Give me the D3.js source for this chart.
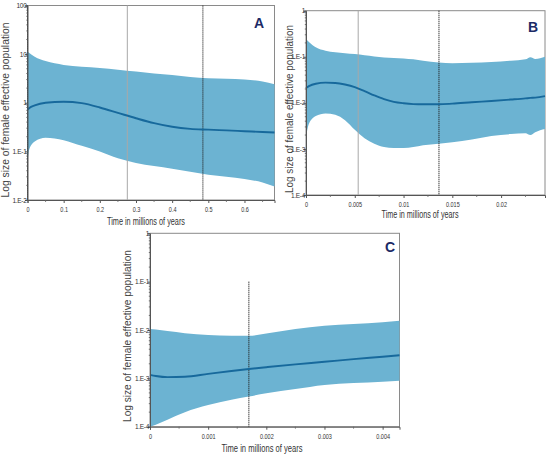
<!DOCTYPE html>
<html><head><meta charset="utf-8">
<script src="https://cdn.jsdelivr.net/npm/d3@7"></script>
<style>
body{margin:0;background:#fff;}
svg{display:block;font-family:"Liberation Sans",Arial,sans-serif;}
</style></head>
<body>
<svg id="c" width="550" height="458"></svg>
<script>
// ---------- Panel A ----------
const timeA   = [0, 0.005, 0.02, 0.05, 0.1, 0.15, 0.2, 0.25, 0.3, 0.35, 0.4, 0.45, 0.5, 0.55, 0.6, 0.65, 0.683];
const upperA  = [11.3, 10.5, 8.8, 7.2, 6.0, 5.5, 5.2, 4.8, 4.4, 4.0, 3.7, 3.4, 3.2, 3.1, 3.0, 2.75, 2.4];
const medianA = [0.72, 0.78, 0.88, 1.0, 1.05, 0.98, 0.8, 0.62, 0.48, 0.38, 0.32, 0.29, 0.28, 0.27, 0.26, 0.25, 0.245];
const lowerA  = [0.06, 0.11, 0.16, 0.19, 0.17, 0.13, 0.1, 0.072, 0.058, 0.05, 0.044, 0.038, 0.033, 0.03, 0.027, 0.023, 0.019];
const xTicksA = [0, 0.1, 0.2, 0.3, 0.4, 0.5, 0.6];
const xLabelsA = ["0", "0.1", "0.2", "0.3", "0.4", "0.5", "0.6"];
const yTicksA = [100, 10, 1, 0.1, 0.01];
const yLabelsA = ["100", "10", "1", "1.E-1", "1.E-2"];
const vlinesA = [{t: 0, dark: true}, {t: 0.276, dark: false}, {t: 0.485, dark: true}];

// ---------- Panel B ----------
const timeB   = [0, 0.0003, 0.001, 0.002, 0.003, 0.004, 0.005, 0.006, 0.007, 0.008, 0.009, 0.010, 0.011, 0.012, 0.0136, 0.015, 0.017, 0.019, 0.021, 0.0225, 0.023, 0.0235, 0.0245];
const upperB  = [0.24, 0.21, 0.16, 0.135, 0.125, 0.12, 0.115, 0.108, 0.102, 0.097, 0.094, 0.092, 0.088, 0.082, 0.075, 0.072, 0.074, 0.077, 0.082, 0.088, 0.098, 0.09, 0.1];
const medianB = [0.021, 0.023, 0.026, 0.0275, 0.027, 0.025, 0.022, 0.018, 0.0145, 0.012, 0.0105, 0.0098, 0.0094, 0.0093, 0.0093, 0.0096, 0.0103, 0.011, 0.0118, 0.0125, 0.0128, 0.013, 0.014];
const lowerB  = [0.0018, 0.0035, 0.0052, 0.0059, 0.0055, 0.0042, 0.0026, 0.0017, 0.0013, 0.0011, 0.00105, 0.00105, 0.0011, 0.0012, 0.0013, 0.0014, 0.0016, 0.0019, 0.0021, 0.0022, 0.002, 0.0023, 0.0027];
const xTicksB = [0, 0.005, 0.01, 0.015, 0.02];
const xLabelsB = ["0", "0.005", "0.01", "0.015", "0.02"];
const yTicksB = [1, 0.1, 0.01, 0.001, 0.0001];
const yLabelsB = ["1", "1.E-1", "1.E-2", "1.E-3", "1.E-4"];
const vlinesB = [{t: 0.00535, dark: false}, {t: 0.01363, dark: true}];

// ---------- Panel C ----------
const timeC   = [0, 0.0001, 0.0003, 0.0006, 0.001, 0.0014, 0.0017, 0.002, 0.0025, 0.003, 0.0035, 0.004, 0.00429];
const upperC  = [0.0105, 0.0102, 0.0095, 0.0086, 0.0079, 0.0076, 0.0076, 0.0085, 0.0105, 0.0122, 0.0133, 0.0145, 0.0155];
const medianC = [0.00118, 0.00112, 0.00106, 0.00108, 0.00124, 0.00142, 0.00156, 0.0017, 0.00195, 0.0022, 0.0025, 0.0028, 0.003];
const lowerC  = [0.0001, 0.00011, 0.00014, 0.0002, 0.00028, 0.00036, 0.00042, 0.00049, 0.0006, 0.00073, 0.0008, 0.00085, 0.00089];
const xTicksC = [0, 0.001, 0.002, 0.003, 0.004];
const xLabelsC = ["0", "0.001", "0.002", "0.003", "0.004"];
const yTicksC = [1, 0.1, 0.01, 0.001, 0.0001];
const yLabelsC = ["1", "1.E-1", "1.E-2", "1.E-3", "1.E-4"];
const vlinesC = [{t: 0.0017, dark: true, from: 0.1}];

const yTitle = "Log size of female effective population";
const xTitle = "Time in millions of years";

const svg = d3.select("#c");
const BAND = "#6cb3d2", LINE = "#17699c", LETTER = "#1c2a66";

function panel(cfg) {
  const x = d3.scaleLinear().domain(cfg.xDomain).range([cfg.left, cfg.right]);
  const y = d3.scaleLog().domain(cfg.yDomain).range([cfg.bottom, cfg.top]);
  const g = svg.append("g");
  const rows = cfg.time.map((t, i) => ({t, lo: cfg.lower[i], md: cfg.median[i], hi: cfg.upper[i]}));

  g.append("rect").attr("x", cfg.left).attr("y", cfg.top)
    .attr("width", cfg.right - cfg.left).attr("height", cfg.bottom - cfg.top)
    .attr("fill", "none").attr("stroke", "#8a8a8a").attr("stroke-width", 1);

  g.append("path").datum(rows)
    .attr("fill", BAND)
    .attr("d", d3.area().x(d => x(d.t)).y0(d => y(d.lo)).y1(d => y(d.hi)).curve(d3.curveMonotoneX));

  cfg.vlines.forEach(v => {
    g.append("line").attr("x1", x(v.t)).attr("x2", x(v.t))
      .attr("y1", v.from ? y(v.from) : cfg.top).attr("y2", cfg.bottom)
      .attr("stroke", v.dark ? "#222" : "#a8a8a8")
      .attr("stroke-width", 1)
      .attr("stroke-dasharray", v.dark ? "1.2,0.8" : null);
  });

  g.append("path").datum(rows)
    .attr("fill", "none").attr("stroke", LINE).attr("stroke-width", 1.9)
    .attr("d", d3.line().x(d => x(d.t)).y(d => y(d.md)).curve(d3.curveMonotoneX));

  const xa = d3.axisBottom(x).tickValues(cfg.xTicks).tickSize(3)
    .tickFormat((d, i) => cfg.xLabels[i]);
  const gx = g.append("g").attr("transform", `translate(0,${cfg.bottom})`).call(xa);
  gx.select(".domain").attr("stroke", "#555");
  gx.selectAll(".tick line").attr("stroke", "#555");
  gx.selectAll(".tick text").attr("font-size", 6.5).attr("fill", "#333").attr("dy", "0.9em")
    .attr("transform", "scale(0.85,1)");
  const step = cfg.xTicks[1] - cfg.xTicks[0];
  const minors = d3.range(step / 2, cfg.xDomain[1], step);
  g.selectAll(null).data(minors).enter().append("line")
    .attr("x1", d => x(d)).attr("x2", d => x(d))
    .attr("y1", cfg.bottom).attr("y2", cfg.bottom + 2)
    .attr("stroke", "#666").attr("stroke-width", 0.8);

  const ya = d3.axisLeft(y).tickValues(cfg.yTicks).tickSize(2.5)
    .tickFormat((d, i) => cfg.yLabels[i]);
  const gy = g.append("g").attr("transform", `translate(${cfg.left},0)`).call(ya);
  gy.select(".domain").attr("stroke", "#555");
  gy.selectAll(".tick line").attr("stroke", "#555");
  gy.selectAll(".tick text").attr("font-size", 6.5).attr("fill", "#333")
    .attr("x", -1).attr("letter-spacing", "-0.3");
  const lo = Math.log10(cfg.yDomain[0]), hi = Math.log10(cfg.yDomain[1]);
  const ym = [];
  for (let e = lo; e < hi; e++) for (let k = 2; k <= 9; k++) ym.push(k * Math.pow(10, e));
  g.selectAll(null).data(ym).enter().append("line")
    .attr("x1", cfg.left - 1.2).attr("x2", cfg.left)
    .attr("y1", d => y(d)).attr("y2", d => y(d))
    .attr("stroke", "#555").attr("stroke-width", 0.8);

  g.append("text").attr("x", cfg.xTitleX).attr("y", cfg.xTitleY)
    .attr("text-anchor", "middle").attr("font-size", 10.5).attr("fill", "#333")
    .attr("textLength", cfg.xTitleLen).attr("lengthAdjust", "spacingAndGlyphs")
    .text(xTitle);
  g.append("text")
    .attr("transform", `translate(${cfg.yTitleX},${cfg.yTitleY}) rotate(-90)`)
    .attr("text-anchor", "middle").attr("font-size", 10.5).attr("fill", "#444")
    .attr("textLength", cfg.yTitleLen).attr("lengthAdjust", "spacingAndGlyphs")
    .text(yTitle);

  g.append("text").attr("x", cfg.letterX).attr("y", cfg.letterY)
    .attr("text-anchor", "middle").attr("font-size", 14).attr("font-weight", "bold")
    .attr("fill", LETTER).text(cfg.letter);
}

panel({
  time: timeA, lower: lowerA, median: medianA, upper: upperA,
  xDomain: [0, 0.683], yDomain: [0.01, 100],
  left: 27.5, right: 274.5, top: 5.5, bottom: 200,
  xTicks: xTicksA, xLabels: xLabelsA, yTicks: yTicksA, yLabels: yLabelsA,
  vlines: vlinesA,
  xTitleX: 146, xTitleY: 225, xTitleLen: 78,
  yTitleX: 9, yTitleY: 110, yTitleLen: 175,
  letter: "A", letterX: 259, letterY: 28
});
panel({
  time: timeB, lower: lowerB, median: medianB, upper: upperB,
  xDomain: [0, 0.0245], yDomain: [0.0001, 1],
  left: 306, right: 545, top: 10.7, bottom: 195,
  xTicks: xTicksB, xLabels: xLabelsB, yTicks: yTicksB, yLabels: yLabelsB,
  vlines: vlinesB,
  xTitleX: 420, xTitleY: 218, xTitleLen: 77,
  yTitleX: 293, yTitleY: 109, yTitleLen: 168,
  letter: "B", letterX: 533, letterY: 32
});
panel({
  time: timeC, lower: lowerC, median: medianC, upper: upperC,
  xDomain: [0, 0.00429], yDomain: [0.0001, 1],
  left: 150, right: 399.5, top: 233.3, bottom: 426.7,
  xTicks: xTicksC, xLabels: xLabelsC, yTicks: yTicksC, yLabels: yLabelsC,
  vlines: vlinesC,
  xTitleX: 262, xTitleY: 452, xTitleLen: 81,
  yTitleX: 131, yTitleY: 336, yTitleLen: 172,
  letter: "C", letterX: 390, letterY: 252
});
</script>
</body></html>
